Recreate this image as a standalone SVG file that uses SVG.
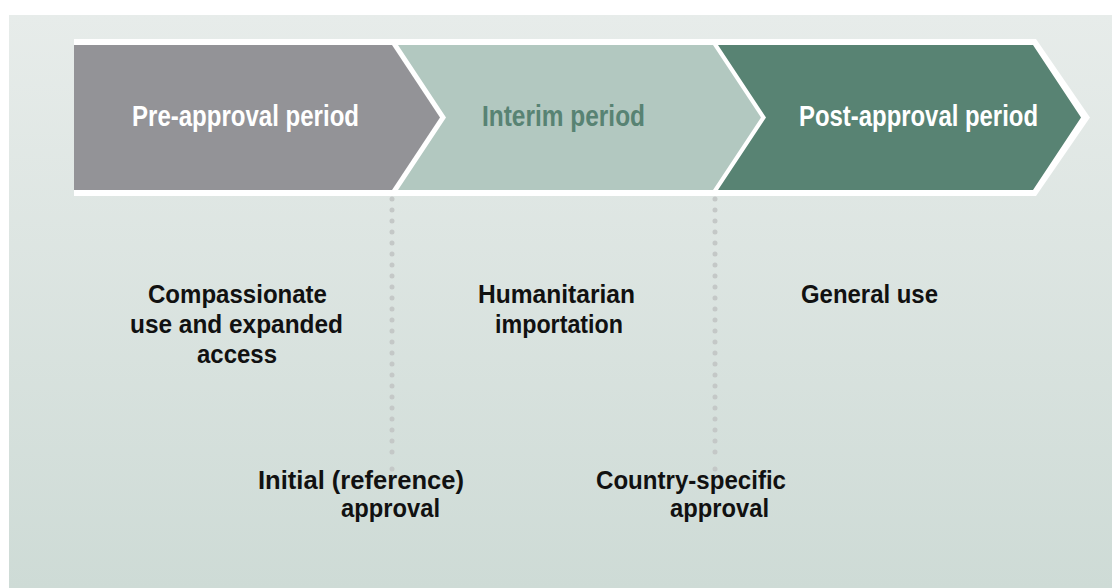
<svg xmlns="http://www.w3.org/2000/svg" width="1112" height="588" viewBox="0 0 1112 588">
  <defs>
    <linearGradient id="bg" x1="0" y1="0" x2="0" y2="1">
      <stop offset="0" stop-color="#e7ecea"/>
      <stop offset="1" stop-color="#cedbd6"/>
    </linearGradient>
    <style>
      .hd { font-family: "Liberation Sans", Arial, sans-serif; font-weight: bold; font-size: 29px; }
      .lb { font-family: "Liberation Sans", Arial, sans-serif; font-weight: bold; font-size: 25px; fill: #111111; }
      .dots { stroke: #c4c8c7; stroke-width: 5; stroke-linecap: round; stroke-dasharray: 0 11; fill: none; }
    </style>
  </defs>
  <rect x="0" y="0" width="1112" height="588" fill="#ffffff"/>
  <rect x="9" y="15" width="1103" height="573" fill="url(#bg)"/>
  <polygon points="74,39 1036,39 1090,117.5 1036,196 74,196" fill="#ffffff"/>

  <g id="connectors">
    <path class="dots" d="M392,199 V463"/>
    <circle cx="392" cy="469" r="2.5" fill="#c4c8c7"/>
    <path class="dots" d="M715,199 V463"/>
    <circle cx="715" cy="469" r="2.5" fill="#c4c8c7"/>
  </g>

  <g id="pre-approval">
    <polygon points="74,45 392,45 440,117.5 392,190 74,190" fill="#939397"/>
    <text class="hd" x="132" y="126" fill="#ffffff" textLength="227" lengthAdjust="spacingAndGlyphs">Pre-approval period</text>
  </g>
  <g id="interim">
    <polygon points="398,45 713,45 761,117.5 713,190 398,190 446,117.5" fill="#b2c8c0"/>
    <text class="hd" x="482" y="126" fill="#588373" textLength="163" lengthAdjust="spacingAndGlyphs">Interim period</text>
  </g>
  <g id="post-approval">
    <polygon points="718,45 1033,45 1081,117.5 1033,190 718,190 766,117.5" fill="#588373"/>
    <text class="hd" x="799" y="126" fill="#ffffff" textLength="239" lengthAdjust="spacingAndGlyphs">Post-approval period</text>
  </g>

  <g id="compassionate">
    <text class="lb" x="148" y="303" textLength="179" lengthAdjust="spacingAndGlyphs">Compassionate</text>
    <text class="lb" x="130" y="333" textLength="213" lengthAdjust="spacingAndGlyphs">use and expanded</text>
    <text class="lb" x="197" y="363" textLength="80" lengthAdjust="spacingAndGlyphs">access</text>
  </g>
  <g id="humanitarian">
    <text class="lb" x="478" y="303" textLength="157" lengthAdjust="spacingAndGlyphs">Humanitarian</text>
    <text class="lb" x="495" y="333" textLength="128" lengthAdjust="spacingAndGlyphs">importation</text>
  </g>
  <g id="general-use">
    <text class="lb" x="801" y="303" textLength="137" lengthAdjust="spacingAndGlyphs">General use</text>
  </g>
  <g id="initial-approval">
    <text class="lb" x="258" y="489" textLength="206" lengthAdjust="spacingAndGlyphs">Initial (reference)</text>
    <text class="lb" x="341" y="517" textLength="99" lengthAdjust="spacingAndGlyphs">approval</text>
  </g>
  <g id="country-approval">
    <text class="lb" x="596" y="489" textLength="190" lengthAdjust="spacingAndGlyphs">Country-specific</text>
    <text class="lb" x="670" y="517" textLength="99" lengthAdjust="spacingAndGlyphs">approval</text>
  </g>
</svg>
